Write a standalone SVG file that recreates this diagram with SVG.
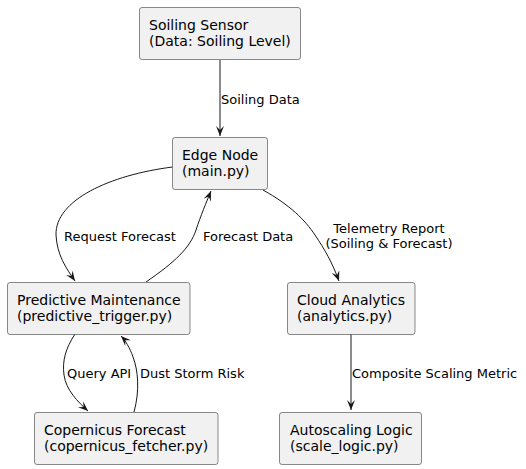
<svg xmlns="http://www.w3.org/2000/svg" width="526" height="469" viewBox="0 0 526 469">
<defs>
<style>
.box{fill:#F1F1F1;stroke:#181818;stroke-width:0.5}
.nt{font-family:"DejaVu Sans",sans-serif;font-size:14px;fill:#000}
.lt{font-family:"DejaVu Sans",sans-serif;font-size:13px;fill:#000}
.ln{fill:none;stroke:#181818;stroke-width:1}
</style>
<marker id="ah" viewBox="0 0 10 8" refX="10" refY="4" markerWidth="10" markerHeight="8" markerUnits="userSpaceOnUse" orient="auto">
<path d="M0,0 L10,4 L0,8 L4,4 Z" fill="#181818"/>
</marker>
</defs>
<rect width="526" height="469" fill="#FFFFFF"/>
<g id="connectors">
<path class="ln" d="M220,60 L220,136" marker-end="url(#ah)"/>
<text class="lt" x="221" y="104">Soiling Data</text>
<path class="ln" d="M172.5,167 C110,175 55,200 56,235 C57,255 66,268 75,281" marker-end="url(#ah)"/>
<text class="lt" x="64" y="241">Request Forecast</text>
<path class="ln" d="M146,282 C175,262 190,248 196,230 C201,215 206,203 211,191" marker-end="url(#ah)"/>
<text class="lt" x="203" y="241">Forecast Data</text>
<path class="ln" d="M263,190 C290,205 305,220 315,235 C325,250 332,262 339,281" marker-end="url(#ah)"/>
<text class="lt" x="389" y="233" text-anchor="middle">Telemetry Report</text>
<text class="lt" x="389" y="248" text-anchor="middle">(Soiling &amp; Forecast)</text>
<path class="ln" d="M75,334 C66,348 62,360 64,375 C66,390 78,402 88,411" marker-end="url(#ah)"/>
<text class="lt" x="67" y="378">Query API</text>
<path class="ln" d="M134,412 C140,390 138,370 133,357 C130,348 125,340 121,336" marker-end="url(#ah)"/>
<text class="lt" x="140" y="378">Dust Storm Risk</text>
<path class="ln" d="M351,334 L351,410" marker-end="url(#ah)"/>
<text class="lt" x="352" y="378">Composite Scaling Metric</text>
</g>
<g id="soiling_sensor">
<rect class="box" x="139.5" y="7.5" width="161" height="52" rx="2.5"/>
<text class="nt" x="149" y="30">Soiling Sensor</text>
<text class="nt" x="149" y="46">(Data: Soiling Level)</text>
</g>
<g id="edge_node">
<rect class="box" x="172.5" y="137.5" width="95" height="52" rx="2.5"/>
<text class="nt" x="182" y="160">Edge Node</text>
<text class="nt" x="182" y="176">(main.py)</text>
</g>
<g id="predictive_maintenance">
<rect class="box" x="7.5" y="282.5" width="182.5" height="52" rx="2.5"/>
<text class="nt" x="17" y="305">Predictive Maintenance</text>
<text class="nt" x="17" y="321">(predictive_trigger.py)</text>
</g>
<g id="cloud_analytics">
<rect class="box" x="287.5" y="282.5" width="127.5" height="52" rx="2.5"/>
<text class="nt" x="297" y="305">Cloud Analytics</text>
<text class="nt" x="297" y="321">(analytics.py)</text>
</g>
<g id="copernicus_forecast">
<rect class="box" x="34.5" y="412.5" width="183.5" height="52" rx="2.5"/>
<text class="nt" x="44" y="435">Copernicus Forecast</text>
<text class="nt" x="44" y="451">(copernicus_fetcher.py)</text>
</g>
<g id="autoscaling_logic">
<rect class="box" x="279.5" y="412.5" width="142" height="52" rx="2.5"/>
<text class="nt" x="290" y="435">Autoscaling Logic</text>
<text class="nt" x="290" y="451">(scale_logic.py)</text>
</g>
</svg>
